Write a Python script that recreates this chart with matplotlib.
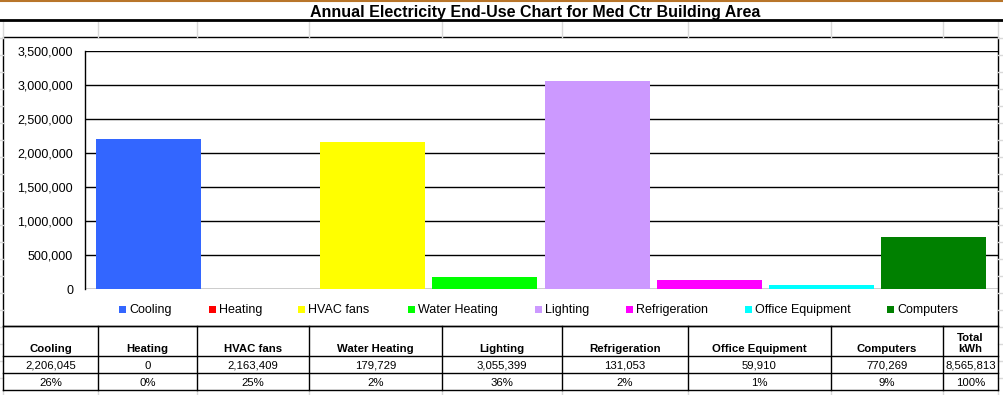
import matplotlib.pyplot as plt
from matplotlib.patches import Rectangle
from matplotlib.ticker import FuncFormatter

# end uses and annual kWh (from the table under the chart)
categories = ["Cooling", "Heating", "HVAC fans", "Water Heating", "Lighting",
              "Refrigeration", "Office Equipment", "Computers"]
kwh = [2206045, 0, 2163409, 179729, 3055399, 131053, 59910, 770269]
total_kwh = 8565813
colors = ["#3366FF", "#FF0000", "#FFFF00", "#00FF00", "#CC99FF",
          "#FF00FF", "#00FFFF", "#008000"]
title = "Annual Electricity End-Use Chart for Med Ctr Building Area"

pcts = [round(100 * v / total_kwh) for v in kwh]

plt.rcParams["font.family"] = ["Liberation Sans", "DejaVu Sans"]

W, H = 1004, 395
fig = plt.figure(figsize=(W / 100, H / 100), dpi=100)

# overlay axes in pixel coords for the sheet decorations
ov = fig.add_axes([0, 0, 1, 1])
ov.set_xlim(0, W)
ov.set_ylim(H, 0)
ov.axis("off")

grey = "#d9d9d9"
col_x = [3, 98, 197, 309, 442, 562, 688, 831, 943, 998]
# spreadsheet cell grid peeking through
for x in col_x:
    ov.plot([x, x], [21, 37], color=grey, lw=1)
    ov.plot([x, x], [390, 395], color=grey, lw=1)
y = 38
while y < H:
    ov.plot([0, 3], [y, y], color=grey, lw=1)
    ov.plot([998, W], [y, y], color=grey, lw=1)
    y += 17

ov.plot([0, W], [0.8, 0.8], color="#b8752a", lw=1.5)
ov.plot([0, W], [20, 20], color="black", lw=2)
ov.text(535, 16.5, title, ha="center", va="baseline", fontsize=11.5, fontweight="bold")

# chart frame
ov.add_patch(Rectangle((3, 37), 995, 289, fill=False, ec="black", lw=1))

# legend
leg_x = [119, 209, 298, 408, 535, 626, 745, 887]
for lx, name, c in zip(leg_x, categories, colors):
    ov.add_patch(Rectangle((lx, 305.5), 7, 7, color=c, lw=0))
    ov.text(lx + 10, 313, name, ha="left", va="baseline", fontsize=9)

# table under the chart
row_y = [326, 356, 373, 390]
for yy in row_y:
    ov.plot([3, 998], [yy, yy], color="black", lw=1)
for x in col_x:
    ov.plot([x, x], [326, 390], color="black", lw=1)

heads = categories + ["Total\nkWh"]
vals = kwh + [total_kwh]
pct_all = pcts + [100]
for i in range(len(heads)):
    cx = (col_x[i] + col_x[i + 1]) / 2
    ov.text(cx, 352, heads[i], ha="center", va="baseline", fontsize=8.2,
            fontweight="bold", linespacing=1.15)
    ov.text(cx, 369, f"{vals[i]:,}", ha="center", va="baseline", fontsize=8.2)
    ov.text(cx, 386, f"{pct_all[i]}%", ha="center", va="baseline", fontsize=8.2)

# bar chart
px_l, px_r, px_t, px_b = 85, 998, 51, 289
ax = fig.add_axes([px_l / W, 1 - px_b / H, (px_r - px_l) / W, (px_b - px_t) / H])
ax.patch.set_alpha(0)
xpos = list(range(len(categories)))
ax.bar(xpos, kwh, width=0.936, color=colors, zorder=3)
ax.set_xlim(-0.566, 7.575)
ax.set_ylim(0, 3500000)
ax.set_yticks(range(0, 3500001, 500000))
ax.yaxis.set_major_formatter(FuncFormatter(lambda v, p: f"{int(v):,}"))
ax.tick_params(axis="y", length=0, pad=8.6, labelsize=9)
ax.set_xticks([])
ax.grid(axis="y", color="black", lw=1, zorder=1)
for s in ["top", "right", "bottom"]:
    ax.spines[s].set_visible(False)
ax.spines["left"].set_linewidth(1)

fig.savefig("out.png", dpi=100)
